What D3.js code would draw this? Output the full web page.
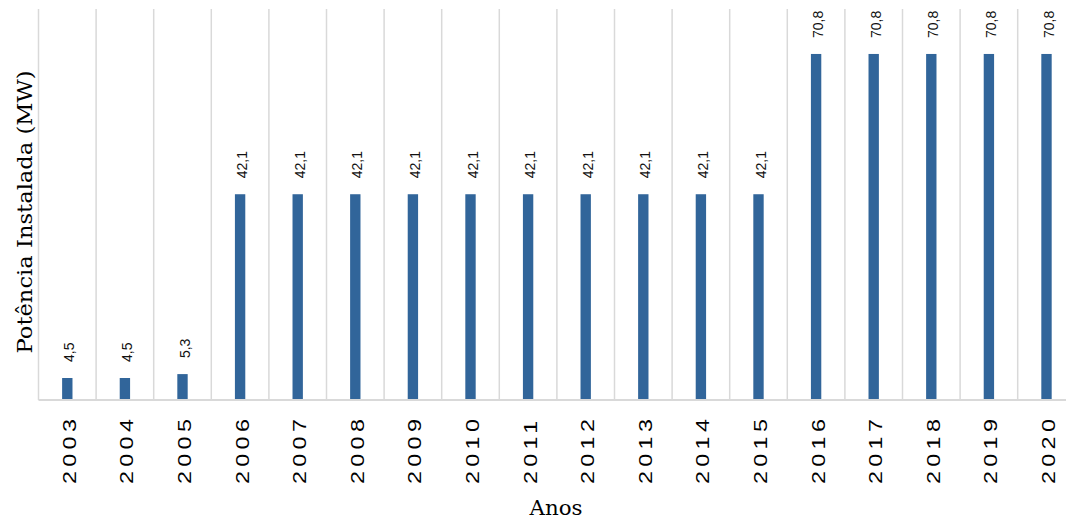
<!DOCTYPE html>
<html>
<head>
<meta charset="utf-8">
<script src="https://cdn.jsdelivr.net/npm/d3@7"></script>
<style>
  html, body { margin: 0; padding: 0; background: #fff; }
  svg { display: block; }
</style>
</head>
<body>
<svg id="chart" width="1066" height="522"></svg>
<script>
const years = ["2003","2004","2005","2006","2007","2008","2009","2010","2011","2012","2013","2014","2015","2016","2017","2018","2019","2020"];
const potencia = [4.5,4.5,5.3,42.1,42.1,42.1,42.1,42.1,42.1,42.1,42.1,42.1,42.1,70.8,70.8,70.8,70.8,70.8];
const valueLabels = ["4,5","4,5","5,3","42,1","42,1","42,1","42,1","42,1","42,1","42,1","42,1","42,1","42,1","70,8","70,8","70,8","70,8","70,8"];
const yTitle = "Potência Instalada (MW)";
const xTitle = "Anos";

const svg = d3.select("#chart");
const plotLeft = 38.5, plotRight = 1075.3, plotTop = 9, plotBottom = 400;

const x = d3.scaleBand().domain(years).range([plotLeft, plotRight]).paddingInner(0.82).paddingOuter(0.41);
const xGrid = d3.scaleBand().domain(years).range([plotLeft, plotRight]);
const y = d3.scaleLinear().domain([0, 80]).range([plotBottom, plotTop]);

// vertical gridlines at category boundaries
svg.append("g").selectAll("line")
  .data(years)
  .join("line")
  .attr("x1", d => xGrid(d)).attr("x2", d => xGrid(d))
  .attr("y1", y(80)).attr("y2", y(0))
  .attr("stroke", "#d9d9d9").attr("stroke-width", 1.5);

// bars
svg.append("g").selectAll("rect")
  .data(years)
  .join("rect")
  .attr("x", d => x(d))
  .attr("width", x.bandwidth())
  .attr("y", (d, i) => y(potencia[i]))
  .attr("height", (d, i) => y(0) - y(potencia[i]))
  .attr("fill", "#31659a");

// baseline
svg.append("line")
  .attr("x1", plotLeft).attr("x2", plotRight)
  .attr("y1", y(0)).attr("y2", y(0))
  .attr("stroke", "#d9d9d9").attr("stroke-width", 2);

// value labels
svg.append("g").selectAll("text")
  .data(years)
  .join("text")
  .attr("transform", (d, i) => `translate(${xGrid(d) + xGrid.bandwidth() / 2 + 7},${y(potencia[i]) - 16}) rotate(-90)`)
  .attr("font-family", "Liberation Sans, Arial, sans-serif")
  .attr("font-size", 14)
  .attr("fill", "#111")
  .attr("text-anchor", "start")
  .text((d, i) => valueLabels[i]);

// x axis tick labels
svg.append("g").selectAll("text")
  .data(years)
  .join("text")
  .attr("transform", d => `translate(${xGrid(d) + xGrid.bandwidth() / 2 + 8.5},484) rotate(-90) scale(1.3,1)`)
  .attr("font-family", "Liberation Sans, Arial, sans-serif")
  .attr("font-size", 18)
  .attr("letter-spacing", 3.3)
  .attr("fill", "#000")
  .attr("text-anchor", "start")
  .text(d => d);

// axis titles
svg.append("text")
  .attr("transform", `translate(32,212) rotate(-90)`)
  .attr("font-family", "DejaVu Serif, Georgia, serif")
  .attr("font-size", 20)
  .attr("text-anchor", "middle")
  .attr("fill", "#000")
  .attr("textLength", 283)
  .attr("lengthAdjust", "spacingAndGlyphs")
  .text(yTitle);

svg.append("text")
  .attr("x", 556).attr("y", 515)
  .attr("font-family", "DejaVu Serif, Georgia, serif")
  .attr("font-size", 20)
  .attr("text-anchor", "middle")
  .attr("fill", "#000")
  .attr("textLength", 53)
  .attr("lengthAdjust", "spacingAndGlyphs")
  .text(xTitle);
</script>
</body>
</html>
